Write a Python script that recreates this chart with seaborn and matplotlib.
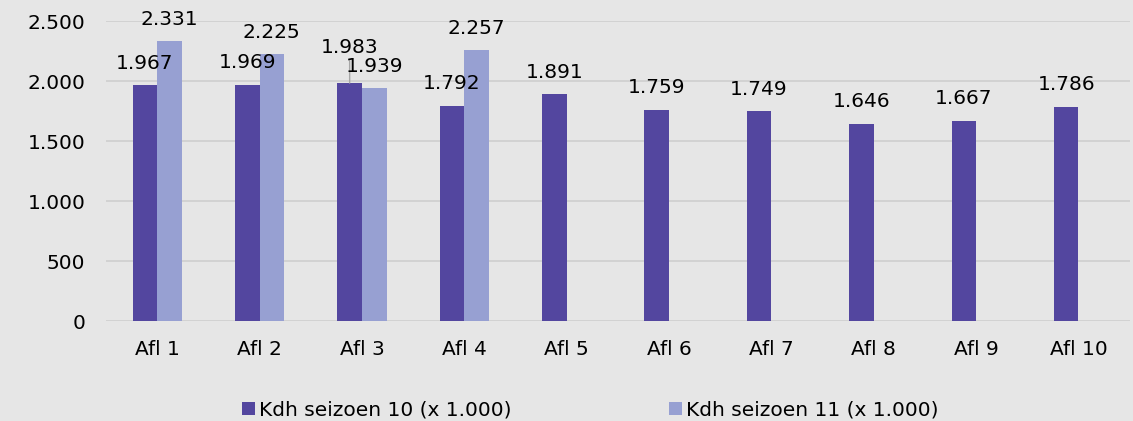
import matplotlib
matplotlib.use("Agg")
import matplotlib.pyplot as plt
import seaborn as sns
import pandas as pd
import numpy as np

# data
afleveringen = ['Afl 1', 'Afl 2', 'Afl 3', 'Afl 4', 'Afl 5',
                'Afl 6', 'Afl 7', 'Afl 8', 'Afl 9', 'Afl 10']
seizoen_10 = [1967, 1969, 1983, 1792, 1891, 1759, 1749, 1646, 1667, 1786]
seizoen_11 = [2331, 2225, 1939, 2257, np.nan, np.nan, np.nan, np.nan, np.nan, np.nan]
series_names = ['Kdh seizoen 10 (x 1.000)', 'Kdh seizoen 11 (x 1.000)']
y_ticks = [0, 500, 1000, 1500, 2000, 2500]

data = pd.DataFrame({
    "Aflevering": afleveringen * 2,
    "Serie": [series_names[0]] * len(afleveringen) + [series_names[1]] * len(afleveringen),
    "Kijkers": seizoen_10 + seizoen_11,
})

sns.set_style("white")
plt.rcParams['font.family'] = ['DejaVu Sans']
plt.rcParams['text.color'] = 'black'
fs = 14.5

fig = plt.figure(figsize=(11.33, 4.21), dpi=100, facecolor='#e6e6e6')
ax = fig.add_axes([0.0936, 0.2375, 0.9034, 0.7125])
ax.set_facecolor('none')

colors = ['#53469f', '#97a0d2']
sns.barplot(data=data, x="Aflevering", y="Kijkers", hue="Serie",
            palette=colors, width=0.48, saturation=1, linewidth=0,
            ax=ax, zorder=2)

ax.set_xlim(-0.5, len(afleveringen) - 0.5)
ax.set_ylim(0, 2500)
ax.set_yticks(y_ticks)
ax.set_yticklabels([f"{v:,}".replace(",", ".") for v in y_ticks])
ax.grid(axis='y', color='#cfcfcf', linewidth=1.2, zorder=0)
ax.set_axisbelow(True)
sns.despine(ax=ax, left=True, bottom=True)
ax.tick_params(axis='both', length=0, labelsize=fs, labelcolor='black')
ax.tick_params(axis='y', pad=15)
ax.tick_params(axis='x', pad=14)
ax.set_xlabel("")
ax.set_ylabel("")

# value labels; Excel lifted one of them and drew a leader line
for si, cont in enumerate(ax.containers):
    for ci, bar in enumerate(cont):
        h = bar.get_height()
        if np.isnan(h):
            continue
        lifted = (si, ci) == (0, 2)
        ax.annotate(f"{int(h):,}".replace(",", "."),
                    xy=(bar.get_x() + bar.get_width() / 2, h),
                    xytext=(0, 18.5 if lifted else 9),
                    textcoords='offset points', ha='center', va='bottom',
                    fontsize=fs, color='black', annotation_clip=False,
                    arrowprops=dict(arrowstyle='-', color='#a6a6a6', lw=1,
                                    shrinkA=0, shrinkB=0) if lifted else None)

leg = ax.legend(loc='center', bbox_to_anchor=(0.473, -0.297), ncol=2,
                frameon=False, fontsize=fs, handlelength=0.65, handleheight=0.65,
                handletextpad=0.2, columnspacing=7.8)
for t in leg.get_texts():
    t.set_color('black')

fig.savefig("out.png", dpi=100, facecolor=fig.get_facecolor())
